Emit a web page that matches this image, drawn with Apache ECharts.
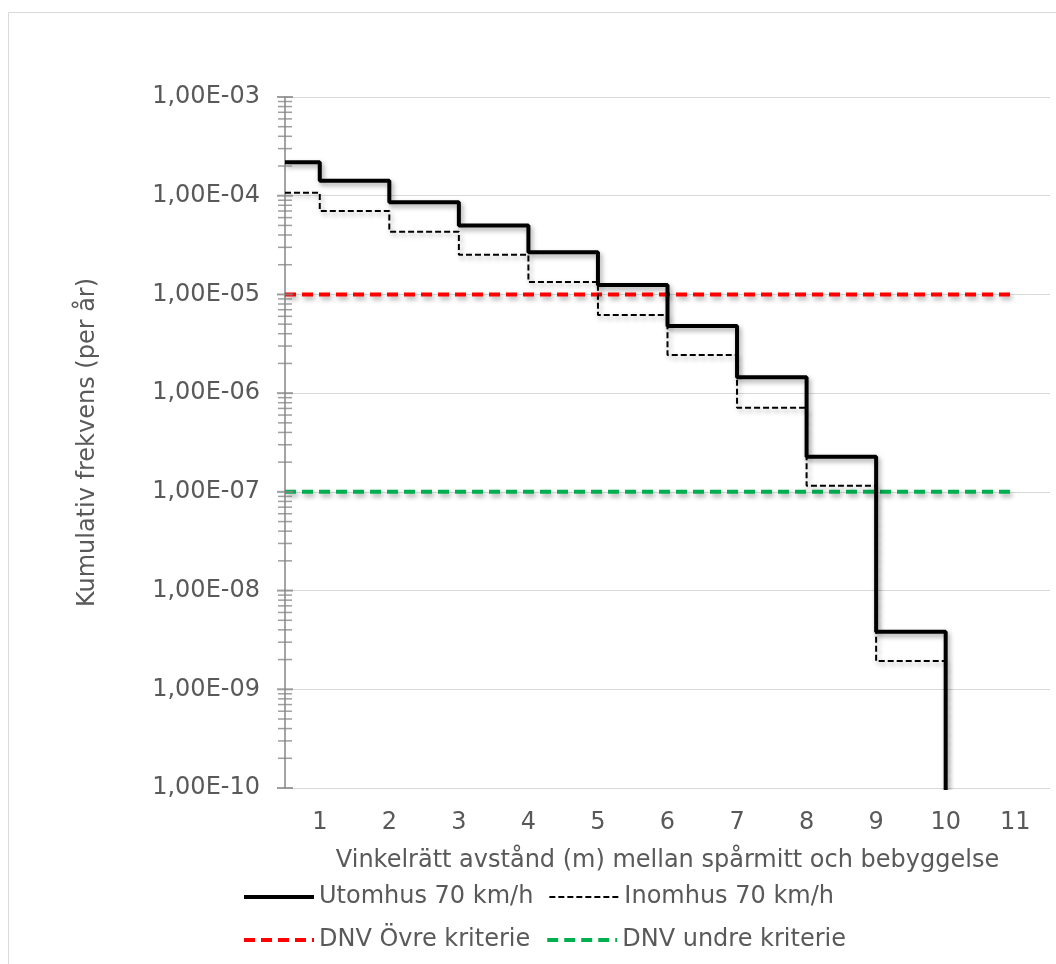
<!DOCTYPE html>
<html>
<head>
<meta charset="utf-8">
<script src="https://cdn.jsdelivr.net/npm/echarts@6/dist/echarts.min.js"></script>
<style>
html,body{margin:0;padding:0;background:#fff;overflow:hidden;}
#chart{width:1056px;height:964px;}
</style>
</head>
<body>
<div id="chart"></div>
<script>
// Distance (m) where each step begins; last entry = drop below axis
const stepX = [0.5, 1, 2, 3, 4, 5, 6, 7, 8, 9, 10];
// Utomhus 70 km/h (cumulative frequency per year)
const utomhus = [2.18e-4, 1.42e-4, 8.6e-5, 5.0e-5, 2.67e-5, 1.245e-5, 4.78e-6, 1.445e-6, 2.27e-7, 3.83e-9, 1e-12];
// Inomhus 70 km/h
const inomhus = [1.07e-4, 7.0e-5, 4.32e-5, 2.52e-5, 1.34e-5, 6.18e-6, 2.43e-6, 7.11e-7, 1.15e-7, 1.93e-9, 1e-12];
// Criteria lines
const critX = [0.5, 11];
const dnvOvre = [1e-5, 1e-5];
const dnvUndre = [1e-7, 1e-7];
// Axis labels
const yTickLabels = {'-10':'1,00E-10','-9':'1,00E-09','-8':'1,00E-08','-7':'1,00E-07','-6':'1,00E-06','-5':'1,00E-05','-4':'1,00E-04','-3':'1,00E-03'};
const xTickLabels = ['1','2','3','4','5','6','7','8','9','10','11'];
const seriesNames = ['Utomhus 70 km/h', 'Inomhus 70 km/h', 'DNV Övre kriterie', 'DNV undre kriterie'];

// log-axis tick positions (drawn as marks crossing the y axis)
const majorTicks = [];
const minorTicks = [];
for (let e = -10; e <= -3; e++) {
  majorTicks.push(Math.pow(10, e));
  if (e < -3) for (let k = 2; k <= 9; k++) minorTicks.push(k * Math.pow(10, e));
}

const zip = (xs, ys) => xs.map((x, i) => [x, ys[i]]);
const FONT = 'DejaVu Sans';
const TXT = '#595959';
const shadow = {shadowColor:'rgba(0,0,0,0.35)', shadowBlur:5, shadowOffsetX:2, shadowOffsetY:3};

const styles = {
  [seriesNames[0]]: {color: '#000', width: 4, type: 'solid'},
  [seriesNames[1]]: {color: '#000', width: 2, type: [6, 3]},
  [seriesNames[2]]: {color: '#ff0000', width: 4, type: [11, 6]},
  [seriesNames[3]]: {color: '#00b050', width: 4, type: [11, 6]}
};
const legendItem = n => ({name: n, lineStyle: Object.assign({}, styles[n], {shadowBlur: 0, shadowColor: 'transparent'})});
const legendBase = {
  itemWidth: 70, itemHeight: 14, itemGap: 15,
  itemStyle: {opacity: 0},
  textStyle: {fontFamily: FONT, fontSize: 24, color: TXT, width: 220, overflow: 'none'}
};

const chart = echarts.init(document.getElementById('chart'));
chart.setOption({
  animation: false,
  backgroundColor: '#fff',
  textStyle: {fontFamily: FONT},
  graphic: [{
    type: 'rect', silent: true, z: -10,
    shape: {x: 8.5, y: 12.5, width: 1200, height: 1200},
    style: {fill: 'none', stroke: '#d9d9d9', lineWidth: 1}
  }],
  grid: {left: 285, right: 6, top: 97, bottom: 176, containLabel: false},
  legend: [
    Object.assign({left: 237, top: 880, data: seriesNames.slice(0, 2).map(legendItem)}, legendBase),
    Object.assign({left: 237, top: 923, data: seriesNames.slice(2, 4).map(legendItem)}, legendBase)
  ],
  xAxis: {
    type: 'value', min: 0.5, max: 11.5, interval: 0.5,
    name: 'Vinkelrätt avstånd (m) mellan spårmitt och bebyggelse',
    nameLocation: 'middle', nameGap: 61,
    nameTextStyle: {fontFamily: FONT, fontSize: 24, color: TXT},
    axisLine: {show: false}, axisTick: {show: false}, splitLine: {show: false},
    axisLabel: {
      margin: 23, fontFamily: FONT, fontSize: 24, color: TXT,
      formatter: v => Number.isInteger(v) && v >= 1 && v <= 11 ? xTickLabels[v - 1] : ''
    }
  },
  yAxis: {
    type: 'log', logBase: 10, min: 1e-10, max: 1e-3, interval: 1,
    name: 'Kumulativ frekvens (per år)',
    nameLocation: 'middle', nameGap: 185,
    nameTextStyle: {fontFamily: FONT, fontSize: 24, color: TXT},
    axisLine: {show: true, lineStyle: {color: '#868686', width: 1.5}},
    axisTick: {show: false},
    splitLine: {show: true, lineStyle: {color: '#d9d9d9', width: 1}},
    axisLabel: {
      margin: 25, fontFamily: FONT, fontSize: 24, color: TXT,
      formatter: v => yTickLabels[String(Math.round(Math.log10(v)))] || ''
    }
  },
  series: [
    {
      name: seriesNames[2], type: 'line', data: zip(critX, dnvOvre),
      symbol: 'none', z: 3,
      lineStyle: Object.assign({}, styles[seriesNames[2]], shadow),
      itemStyle: {color: '#ff0000'}
    },
    {
      name: seriesNames[3], type: 'line', data: zip(critX, dnvUndre),
      symbol: 'none', z: 3,
      lineStyle: Object.assign({}, styles[seriesNames[3]], shadow),
      itemStyle: {color: '#00b050'}
    },
    {
      name: seriesNames[1], type: 'line', step: 'end', data: zip(stepX, inomhus),
      symbol: 'none', z: 4,
      lineStyle: Object.assign({}, styles[seriesNames[1]], shadow),
      itemStyle: {color: '#000'}
    },
    {
      name: seriesNames[0], type: 'line', step: 'end', data: zip(stepX, utomhus),
      symbol: 'none', z: 5,
      lineStyle: Object.assign({}, styles[seriesNames[0]], shadow),
      itemStyle: {color: '#000'}
    },
    {
      name: 'majorTicks', type: 'scatter', silent: true, clip: false, z: 6,
      data: majorTicks.map(v => [0.5, v]),
      symbol: 'rect', symbolSize: [16, 2],
      itemStyle: {color: '#868686'}
    },
    {
      name: 'minorTicks', type: 'scatter', silent: true, clip: false, z: 6,
      data: minorTicks.map(v => [0.5, v]),
      symbol: 'rect', symbolSize: [14, 1.5],
      itemStyle: {color: '#868686'}
    }
  ]
});
</script>
</body>
</html>
